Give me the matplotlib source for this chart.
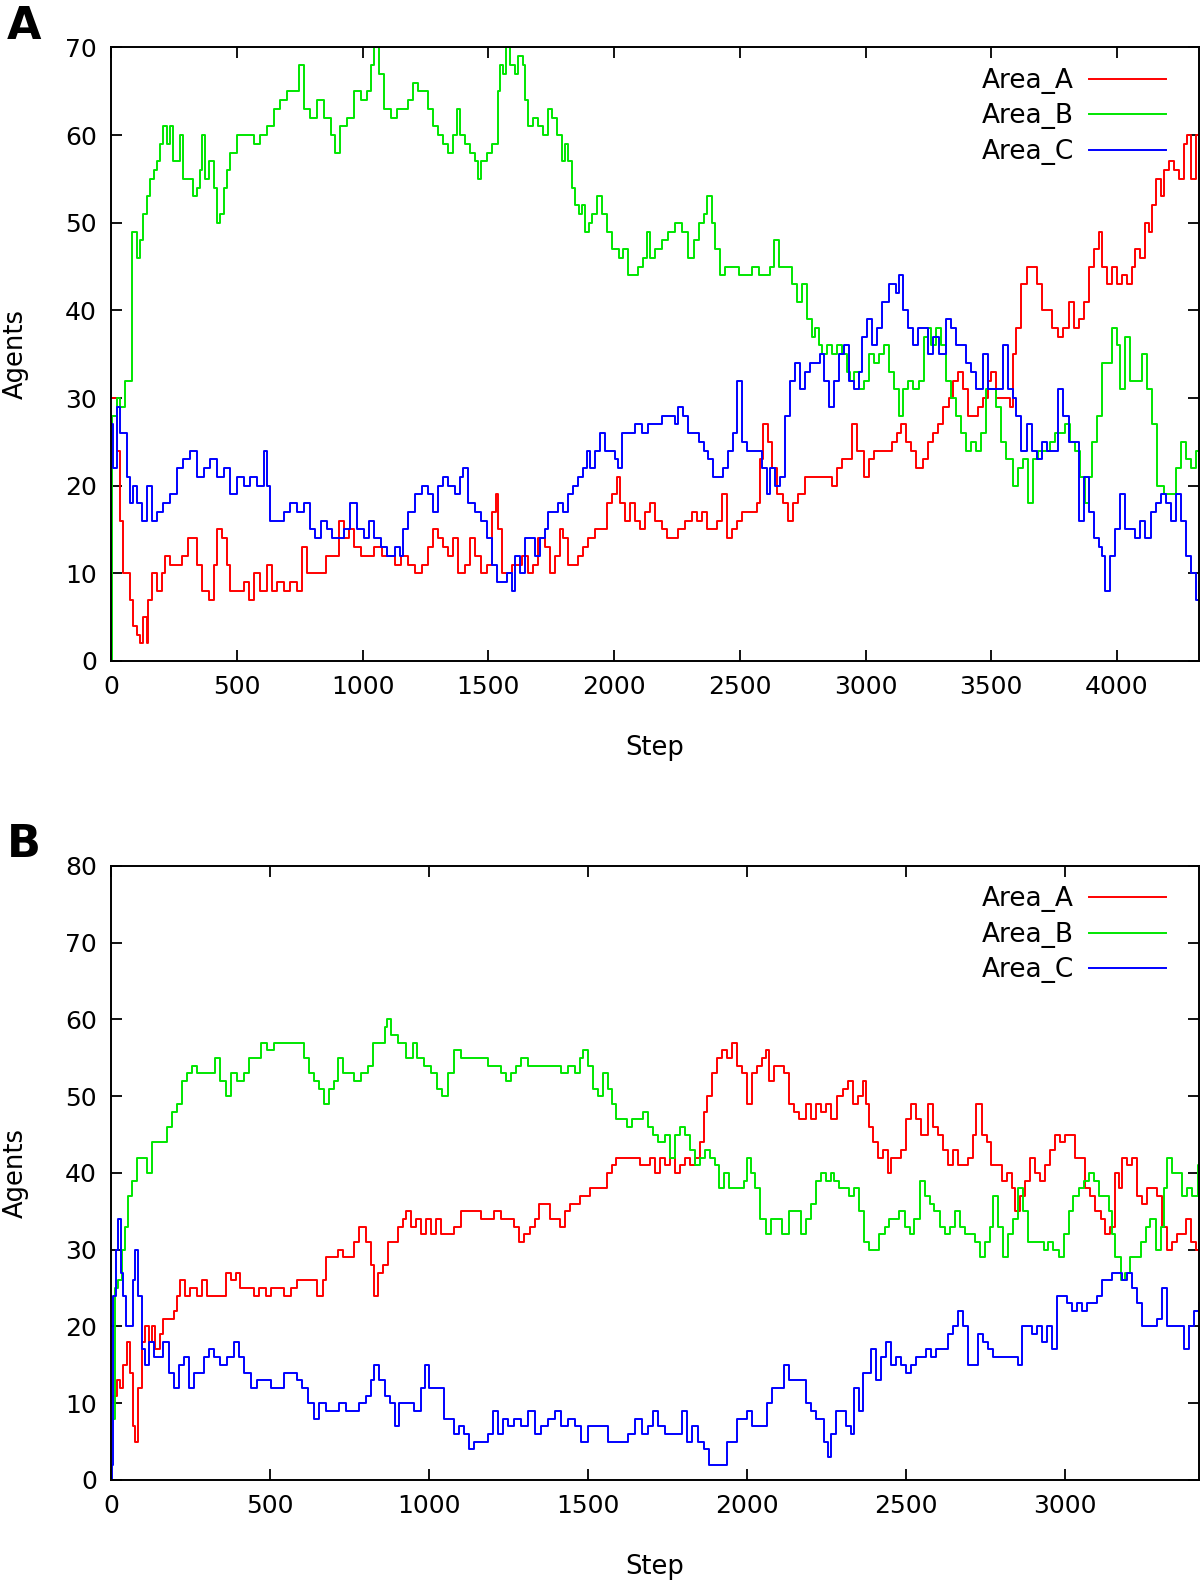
import matplotlib
matplotlib.use("Agg")
import matplotlib.pyplot as plt
import numpy as np

# (step, agents) samples
a_area_a = [
    (0, 30), (23, 24), (36, 16), (49, 10), (62, 10), (76, 7), (89, 4), (102, 3), (115, 2), (129, 5),
    (142, 2), (149, 7), (162, 10), (182, 8), (202, 10), (215, 12), (235, 11), (262, 11), (282, 12),
    (308, 14), (321, 14), (341, 11), (361, 8), (388, 7), (408, 11), (421, 15), (441, 14), (461, 11),
    (474, 8), (500, 8), (527, 9), (547, 7), (567, 10), (594, 8), (620, 11), (640, 8), (660, 9),
    (687, 8), (713, 9), (740, 8), (760, 13), (780, 10), (833, 10), (853, 12), (886, 12), (906, 16),
    (926, 14), (945, 15), (965, 13), (992, 12), (1019, 12), (1045, 13), (1076, 12), (1102, 12),
    (1129, 11), (1155, 12), (1182, 11), (1208, 10), (1235, 11), (1261, 13), (1281, 15), (1301, 14),
    (1321, 13), (1341, 12), (1361, 14), (1381, 10), (1407, 11), (1427, 14), (1447, 12), (1473, 10),
    (1493, 11), (1513, 17), (1529, 19), (1540, 15), (1553, 10), (1573, 10), (1593, 11), (1613, 11),
    (1633, 12), (1659, 10), (1679, 11), (1699, 14), (1725, 13), (1745, 10), (1765, 12), (1785, 15),
    (1798, 14), (1818, 11), (1838, 11), (1858, 12), (1878, 13), (1898, 14), (1924, 15), (1951, 15),
    (1971, 18), (1991, 19), (2011, 21), (2024, 18), (2044, 16), (2064, 18), (2084, 16), (2104, 15),
    (2124, 17), (2143, 18), (2163, 16), (2190, 15), (2210, 14), (2230, 14), (2256, 15), (2283, 16),
    (2309, 17), (2329, 16), (2349, 17), (2369, 15), (2389, 15), (2409, 16), (2429, 19), (2448, 14),
    (2468, 15), (2488, 16), (2508, 17), (2528, 17), (2548, 17), (2568, 18), (2581, 23), (2594, 27),
    (2614, 25), (2628, 22), (2648, 19), (2673, 18), (2693, 16), (2713, 18), (2733, 19), (2760, 21),
    (2787, 21), (2813, 21), (2840, 21), (2867, 20), (2887, 22), (2907, 23), (2927, 23), (2947, 27),
    (2967, 24), (2993, 21), (3013, 23), (3033, 24), (3053, 24), (3080, 24), (3107, 25), (3127, 26),
    (3140, 27), (3160, 25), (3180, 24), (3200, 22), (3227, 23), (3247, 25), (3267, 26), (3287, 27),
    (3307, 29), (3333, 30), (3347, 32), (3367, 33), (3387, 31), (3407, 28), (3427, 28), (3447, 29),
    (3467, 30), (3487, 32), (3500, 33), (3520, 30), (3547, 30), (3573, 29), (3587, 35), (3600, 38),
    (3620, 43), (3640, 45), (3660, 45), (3680, 43), (3700, 40), (3720, 40), (3740, 38), (3767, 37),
    (3787, 38), (3807, 41), (3827, 38), (3847, 39), (3867, 41), (3887, 45), (3907, 47), (3927, 49),
    (3940, 45), (3960, 43), (3980, 45), (4000, 43), (4020, 44), (4040, 43), (4060, 45), (4073, 47),
    (4093, 46), (4113, 50), (4127, 49), (4140, 52), (4153, 55), (4173, 53), (4187, 56), (4207, 57),
    (4227, 56), (4247, 55), (4267, 59), (4280, 60), (4293, 55), (4313, 60), (4325, 56),
]
a_area_b = [
    (0, 0), (5, 28), (23, 30), (36, 29), (56, 32), (69, 32), (82, 49), (89, 49), (102, 46), (115, 48),
    (129, 51), (142, 53), (155, 55), (169, 56), (182, 57), (195, 59), (208, 61), (222, 59), (235, 61),
    (248, 57), (262, 57), (275, 60), (288, 55), (315, 55), (328, 53), (341, 54), (355, 56), (361, 60),
    (374, 55), (388, 57), (408, 54), (421, 50), (434, 51), (448, 54), (461, 56), (474, 58), (487, 58),
    (500, 60), (514, 60), (540, 60), (567, 59), (594, 60), (620, 61), (647, 63), (673, 64), (700, 65),
    (726, 65), (746, 68), (766, 63), (793, 62), (819, 64), (846, 62), (873, 60), (892, 58), (912, 61),
    (939, 62), (965, 65), (992, 64), (1019, 65), (1032, 68), (1045, 70), (1065, 67), (1085, 63),
    (1112, 62), (1138, 63), (1155, 63), (1182, 64), (1202, 66), (1221, 65), (1241, 65), (1261, 63),
    (1281, 61), (1301, 60), (1321, 59), (1341, 58), (1361, 60), (1374, 63), (1387, 60), (1407, 59),
    (1427, 58), (1447, 57), (1460, 55), (1473, 57), (1493, 58), (1513, 59), (1527, 59), (1540, 65),
    (1546, 68), (1560, 67), (1569, 70), (1586, 68), (1606, 67), (1619, 69), (1639, 68), (1646, 64),
    (1659, 61), (1679, 62), (1699, 61), (1719, 60), (1739, 63), (1753, 62), (1772, 60), (1792, 57),
    (1806, 59), (1818, 57), (1832, 54), (1845, 52), (1859, 51), (1872, 52), (1885, 49), (1899, 50),
    (1912, 51), (1931, 53), (1951, 51), (1971, 49), (1991, 47), (2019, 46), (2037, 47), (2057, 44),
    (2077, 44), (2097, 45), (2117, 46), (2130, 49), (2143, 46), (2163, 47), (2190, 48), (2216, 49),
    (2243, 50), (2270, 49), (2296, 46), (2316, 48), (2336, 50), (2356, 51), (2370, 53), (2390, 50),
    (2402, 47), (2422, 44), (2442, 45), (2469, 45), (2495, 44), (2522, 44), (2549, 45), (2575, 44),
    (2602, 44), (2622, 45), (2636, 48), (2655, 45), (2682, 45), (2700, 45), (2707, 43), (2727, 41),
    (2747, 43), (2767, 39), (2787, 37), (2800, 38), (2813, 36), (2827, 35), (2847, 36), (2867, 35),
    (2887, 36), (2907, 35), (2927, 33), (2940, 32), (2953, 33), (2973, 31), (2993, 32), (3013, 35),
    (3033, 34), (3053, 35), (3073, 36), (3093, 33), (3113, 31), (3133, 28), (3147, 31), (3167, 32),
    (3187, 31), (3213, 32), (3233, 37), (3247, 38), (3260, 36), (3280, 38), (3300, 36), (3320, 32),
    (3340, 30), (3360, 28), (3380, 26), (3400, 24), (3420, 25), (3440, 24), (3460, 26), (3480, 31),
    (3500, 31), (3520, 29), (3540, 25), (3560, 23), (3587, 20), (3607, 22), (3627, 23), (3647, 18),
    (3667, 23), (3687, 24), (3707, 24), (3733, 25), (3753, 26), (3773, 26), (3793, 27), (3813, 25),
    (3833, 24), (3853, 21), (3873, 18), (3887, 21), (3900, 25), (3920, 28), (3940, 34), (3960, 34),
    (3980, 38), (4000, 36), (4013, 31), (4033, 37), (4053, 32), (4080, 32), (4100, 35), (4120, 31),
    (4140, 27), (4160, 20), (4187, 19), (4213, 19), (4233, 22), (4253, 25), (4273, 23), (4293, 22),
    (4313, 24), (4325, 22),
]
a_area_c = [
    (0, 27), (9, 22), (23, 29), (36, 26), (49, 26), (62, 21), (76, 18), (89, 20), (102, 18), (122, 16),
    (142, 20), (162, 16), (182, 17), (208, 18), (235, 19), (262, 22), (288, 23), (315, 24), (341, 21),
    (368, 22), (394, 23), (421, 21), (448, 22), (474, 19), (500, 21), (527, 20), (554, 21), (580, 20),
    (607, 24), (620, 20), (633, 16), (660, 16), (687, 17), (713, 18), (740, 17), (766, 18), (793, 15),
    (813, 14), (833, 16), (859, 15), (879, 14), (899, 14), (926, 15), (952, 18), (979, 15), (1005, 14),
    (1025, 16), (1045, 14), (1072, 13), (1098, 12), (1129, 13), (1149, 12), (1162, 15), (1182, 17),
    (1208, 19), (1235, 20), (1261, 19), (1281, 17), (1301, 20), (1321, 21), (1341, 20), (1367, 19),
    (1387, 21), (1400, 22), (1420, 18), (1447, 17), (1473, 16), (1493, 14), (1513, 11), (1533, 9),
    (1553, 9), (1573, 10), (1593, 8), (1606, 12), (1626, 10), (1646, 14), (1666, 14), (1686, 12),
    (1706, 14), (1725, 15), (1739, 17), (1759, 17), (1779, 18), (1798, 17), (1818, 19), (1838, 20),
    (1858, 21), (1878, 22), (1891, 24), (1905, 22), (1924, 24), (1944, 26), (1964, 24), (1984, 24),
    (2004, 23), (2017, 22), (2031, 26), (2057, 26), (2084, 27), (2110, 26), (2137, 27), (2163, 27),
    (2190, 28), (2216, 28), (2243, 27), (2256, 29), (2276, 28), (2296, 26), (2316, 26), (2336, 25),
    (2356, 24), (2375, 23), (2395, 21), (2415, 21), (2435, 22), (2455, 24), (2475, 26), (2488, 32),
    (2508, 25), (2528, 24), (2548, 24), (2568, 24), (2588, 22), (2608, 19), (2621, 22), (2641, 20),
    (2661, 21), (2680, 28), (2700, 32), (2720, 34), (2740, 31), (2760, 33), (2780, 34), (2800, 34),
    (2820, 35), (2833, 32), (2853, 29), (2873, 32), (2893, 35), (2913, 36), (2933, 32), (2953, 31),
    (2973, 33), (2987, 37), (3007, 39), (3027, 36), (3047, 38), (3067, 41), (3093, 43), (3120, 42),
    (3133, 44), (3147, 40), (3167, 38), (3187, 36), (3207, 38), (3227, 38), (3247, 35), (3267, 37),
    (3293, 35), (3320, 39), (3340, 38), (3360, 36), (3380, 36), (3400, 34), (3420, 33), (3440, 31),
    (3467, 35), (3487, 31), (3507, 31), (3527, 31), (3547, 36), (3567, 31), (3587, 30), (3600, 28),
    (3620, 24), (3640, 27), (3660, 24), (3680, 23), (3700, 25), (3720, 24), (3747, 24), (3767, 31),
    (3787, 28), (3807, 25), (3827, 25), (3847, 16), (3867, 21), (3887, 17), (3907, 14), (3927, 13),
    (3940, 12), (3953, 8), (3973, 12), (3993, 15), (4013, 19), (4033, 15), (4053, 15), (4073, 14),
    (4093, 16), (4113, 14), (4133, 17), (4153, 18), (4173, 19), (4193, 18), (4213, 16), (4233, 19),
    (4253, 16), (4273, 12), (4293, 10), (4313, 7), (4325, 9),
]

b_area_a = [
    (0, 10), (7, 11), (18, 13), (28, 12), (39, 15), (49, 18), (60, 14), (70, 7), (76, 5), (86, 12),
    (97, 18), (107, 20), (118, 18), (128, 20), (139, 17), (155, 19), (165, 21), (181, 21), (197, 22),
    (207, 24), (218, 26), (234, 24), (249, 25), (271, 24), (286, 26), (302, 24), (323, 24), (344, 24),
    (360, 27), (376, 26), (392, 27), (407, 25), (428, 25), (449, 24), (465, 25), (486, 24), (502, 25),
    (523, 25), (544, 24), (565, 25), (586, 26), (607, 26), (628, 26), (649, 24), (665, 26), (676, 29),
    (692, 29), (713, 30), (728, 29), (749, 29), (765, 31), (781, 33), (802, 31), (818, 28), (826, 24),
    (839, 27), (855, 28), (871, 31), (886, 31), (902, 33), (918, 34), (928, 35), (944, 33), (958, 34),
    (974, 32), (989, 34), (1005, 32), (1021, 34), (1037, 32), (1058, 32), (1079, 33), (1100, 35),
    (1121, 35), (1142, 35), (1163, 34), (1184, 34), (1205, 35), (1226, 34), (1247, 34), (1268, 33),
    (1284, 31), (1300, 32), (1316, 33), (1332, 34), (1347, 36), (1363, 36), (1379, 34), (1395, 34),
    (1411, 33), (1426, 35), (1442, 36), (1458, 36), (1474, 37), (1489, 37), (1505, 38), (1521, 38),
    (1542, 38), (1558, 40), (1574, 41), (1589, 42), (1605, 42), (1626, 42), (1647, 42), (1663, 41),
    (1679, 41), (1695, 42), (1711, 40), (1726, 42), (1742, 41), (1758, 42), (1774, 40), (1789, 41),
    (1805, 42), (1821, 41), (1837, 42), (1853, 44), (1863, 48), (1874, 50), (1889, 53), (1905, 55),
    (1921, 56), (1937, 55), (1953, 57), (1968, 54), (1984, 53), (2000, 49), (2016, 53), (2032, 54),
    (2047, 55), (2058, 56), (2068, 52), (2084, 54), (2100, 54), (2116, 53), (2132, 49), (2147, 48),
    (2163, 47), (2184, 49), (2200, 47), (2216, 49), (2232, 48), (2247, 49), (2263, 47), (2284, 50),
    (2300, 51), (2316, 52), (2332, 49), (2347, 50), (2363, 52), (2374, 49), (2384, 46), (2395, 44),
    (2411, 42), (2426, 43), (2442, 40), (2453, 42), (2468, 42), (2484, 43), (2500, 47), (2516, 49),
    (2532, 47), (2547, 45), (2568, 49), (2584, 46), (2600, 45), (2616, 43), (2632, 41), (2647, 43),
    (2663, 41), (2679, 41), (2695, 42), (2711, 45), (2721, 49), (2737, 45), (2753, 44), (2768, 41),
    (2784, 41), (2800, 39), (2816, 40), (2832, 38), (2842, 35), (2858, 37), (2874, 39), (2889, 42),
    (2905, 40), (2921, 39), (2937, 41), (2953, 43), (2968, 45), (2984, 44), (3000, 45), (3016, 45),
    (3032, 42), (3047, 42), (3063, 38), (3079, 37), (3095, 35), (3111, 34), (3126, 32), (3142, 33),
    (3158, 40), (3168, 38), (3179, 42), (3195, 41), (3210, 42), (3226, 37), (3242, 36), (3258, 38),
    (3274, 38), (3289, 37), (3305, 33), (3321, 30), (3337, 31), (3353, 32), (3368, 32), (3379, 34),
    (3395, 31), (3411, 30), (3420, 31),
]
b_area_b = [
    (0, 8), (13, 25), (23, 26), (34, 30), (44, 33), (55, 37), (65, 39), (81, 42), (97, 42), (113, 40),
    (128, 44), (144, 44), (160, 44), (176, 46), (192, 48), (207, 49), (223, 52), (239, 53), (255, 54),
    (271, 53), (292, 53), (313, 53), (328, 55), (344, 52), (360, 50), (376, 53), (397, 52), (418, 53),
    (434, 55), (449, 55), (471, 57), (492, 56), (513, 57), (534, 57), (555, 57), (576, 57), (592, 57),
    (607, 55), (623, 53), (639, 52), (655, 51), (671, 49), (686, 51), (702, 52), (715, 55), (728, 53),
    (744, 53), (765, 52), (786, 53), (807, 54), (823, 57), (844, 57), (860, 59), (868, 60), (881, 58),
    (902, 57), (927, 55), (948, 57), (963, 55), (984, 54), (1005, 53), (1026, 51), (1042, 50),
    (1058, 53), (1079, 56), (1100, 55), (1121, 55), (1142, 55), (1163, 55), (1184, 54), (1205, 54),
    (1226, 53), (1242, 52), (1258, 53), (1274, 54), (1289, 55), (1311, 54), (1332, 54), (1353, 54),
    (1374, 54), (1395, 54), (1416, 53), (1437, 54), (1458, 53), (1474, 55), (1484, 56), (1500, 54),
    (1516, 51), (1532, 50), (1547, 53), (1563, 51), (1574, 49), (1589, 47), (1605, 47), (1621, 46),
    (1637, 47), (1658, 47), (1674, 48), (1689, 46), (1705, 45), (1721, 44), (1742, 45), (1758, 42),
    (1774, 45), (1789, 46), (1805, 45), (1821, 43), (1837, 41), (1853, 42), (1868, 43), (1884, 42),
    (1900, 41), (1911, 38), (1926, 40), (1942, 38), (1958, 38), (1974, 38), (1989, 39), (2000, 42),
    (2011, 40), (2026, 38), (2042, 34), (2058, 32), (2074, 34), (2089, 34), (2111, 32), (2132, 35),
    (2153, 35), (2168, 32), (2184, 34), (2200, 36), (2216, 39), (2232, 40), (2247, 39), (2263, 40),
    (2274, 39), (2289, 38), (2305, 38), (2321, 37), (2337, 38), (2353, 35), (2368, 31), (2384, 30),
    (2400, 30), (2416, 32), (2432, 33), (2447, 34), (2463, 34), (2479, 35), (2495, 33), (2511, 32),
    (2526, 34), (2542, 39), (2558, 37), (2574, 36), (2589, 35), (2605, 33), (2621, 32), (2637, 33),
    (2653, 35), (2668, 33), (2684, 32), (2700, 32), (2716, 31), (2732, 29), (2747, 31), (2763, 33),
    (2774, 37), (2789, 33), (2805, 29), (2821, 32), (2837, 34), (2853, 38), (2868, 35), (2884, 31),
    (2900, 31), (2916, 31), (2932, 30), (2947, 31), (2963, 30), (2979, 29), (2995, 32), (3011, 35),
    (3026, 37), (3042, 38), (3058, 39), (3074, 40), (3089, 39), (3105, 37), (3121, 37), (3137, 35),
    (3147, 32), (3158, 29), (3174, 26), (3189, 27), (3205, 29), (3221, 29), (3237, 31), (3253, 33),
    (3268, 34), (3284, 30), (3300, 33), (3310, 38), (3321, 42), (3337, 40), (3353, 40), (3368, 37),
    (3384, 38), (3400, 37), (3416, 41), (3420, 40),
]
b_area_c = [
    (0, 0), (2, 2), (7, 24), (16, 30), (23, 34), (31, 27), (39, 24), (47, 20), (58, 20), (68, 26),
    (77, 30), (86, 24), (97, 17), (107, 15), (118, 18), (134, 16), (149, 16), (165, 18), (181, 14),
    (197, 12), (213, 15), (228, 16), (244, 12), (260, 14), (276, 14), (292, 16), (307, 17), (323, 16),
    (344, 15), (365, 16), (386, 18), (402, 16), (418, 14), (439, 12), (460, 13), (481, 13), (502, 12),
    (523, 12), (544, 14), (565, 14), (586, 13), (602, 12), (618, 10), (639, 8), (655, 10), (676, 9),
    (697, 9), (718, 10), (739, 9), (760, 9), (781, 10), (802, 11), (818, 13), (828, 15), (844, 13),
    (860, 11), (876, 10), (892, 7), (907, 10), (928, 10), (953, 9), (974, 12), (987, 15), (1000, 12),
    (1016, 12), (1032, 12), (1047, 8), (1063, 8), (1079, 6), (1095, 7), (1111, 6), (1126, 4),
    (1142, 5), (1163, 5), (1184, 6), (1200, 9), (1216, 6), (1232, 8), (1247, 7), (1268, 8), (1289, 7),
    (1311, 9), (1332, 6), (1353, 7), (1374, 8), (1395, 9), (1416, 7), (1437, 8), (1458, 7), (1479, 5),
    (1500, 7), (1521, 7), (1542, 7), (1563, 5), (1584, 5), (1605, 5), (1626, 6), (1647, 8), (1668, 6),
    (1689, 7), (1705, 9), (1721, 7), (1742, 6), (1758, 6), (1774, 6), (1795, 9), (1811, 5), (1826, 7),
    (1847, 5), (1863, 4), (1879, 2), (1900, 2), (1921, 2), (1937, 5), (1953, 5), (1968, 8), (1984, 8),
    (2000, 9), (2016, 7), (2032, 7), (2047, 7), (2063, 10), (2079, 12), (2095, 12), (2116, 15),
    (2132, 13), (2147, 13), (2163, 13), (2184, 10), (2200, 9), (2216, 8), (2232, 8), (2242, 5),
    (2253, 3), (2263, 6), (2279, 9), (2295, 9), (2311, 7), (2326, 6), (2337, 12), (2353, 9),
    (2363, 14), (2379, 14), (2389, 17), (2405, 13), (2421, 16), (2437, 18), (2453, 15), (2468, 16),
    (2484, 15), (2500, 14), (2516, 15), (2532, 16), (2547, 16), (2563, 17), (2579, 16), (2595, 17),
    (2611, 17), (2632, 19), (2647, 20), (2663, 22), (2679, 20), (2695, 15), (2711, 15), (2726, 19),
    (2742, 18), (2758, 17), (2774, 16), (2789, 16), (2805, 16), (2821, 16), (2837, 16), (2853, 15),
    (2863, 20), (2879, 20), (2895, 19), (2911, 20), (2926, 18), (2942, 20), (2958, 17), (2974, 24),
    (2989, 24), (3005, 23), (3021, 22), (3037, 23), (3053, 22), (3068, 23), (3084, 23), (3100, 24),
    (3116, 26), (3132, 26), (3147, 27), (3163, 27), (3179, 26), (3195, 27), (3210, 25), (3226, 23),
    (3242, 20), (3258, 20), (3274, 20), (3289, 21), (3305, 25), (3321, 20), (3337, 20), (3353, 20),
    (3374, 17), (3389, 20), (3405, 22), (3420, 23),
]

series_names = ["Area_A", "Area_B", "Area_C"]
series_colors = ["#ff0000", "#00e600", "#0000ff"]

panels = [
    ("A", [a_area_a, a_area_b, a_area_c], 4325, 70, [0.0925, 0.5822, 0.9065, 0.3878]),
    ("B", [b_area_a, b_area_b, b_area_c], 3420, 80, [0.0925, 0.0645, 0.9065, 0.3881]),
]

plt.rcParams["font.family"] = ["DejaVu Sans"]

fig = plt.figure(figsize=(12, 15.82), dpi=100)

for letter, data, xmax, ymax, rect in panels:
    ax = fig.add_axes(rect)
    for pts, name, color in zip(data, series_names, series_colors):
        steps, agents = np.array(pts).T
        ax.step(steps, agents, where="post", color=color, lw=1.4, label=name)

    ax.set_xlim(0, xmax)
    ax.set_ylim(0, ymax)
    ax.set_xticks(np.arange(0, xmax + 1, 500))
    ax.set_yticks(np.arange(0, ymax + 1, 10))
    ax.tick_params(direction="in", top=True, right=True, length=8, width=1.3,
                   labelsize=18, pad=10)
    for s in ax.spines.values():
        s.set_linewidth(1.4)
    ax.set_xlabel("Step", fontsize=18.5, labelpad=26)
    ax.set_ylabel("Agents", fontsize=18.5, labelpad=26)

    ax.legend(loc="upper right", frameon=False, markerfirst=False, fontsize=19,
              handlelength=2.95, handletextpad=0.57, labelspacing=0.36,
              borderaxespad=0.0, bbox_to_anchor=(0.98, 0.984))

    pos = ax.get_position()
    fig.text(0.006, pos.y1 + 0.027, letter, fontsize=32, fontweight="bold", va="top")

fig.savefig("out.png", dpi=100)
